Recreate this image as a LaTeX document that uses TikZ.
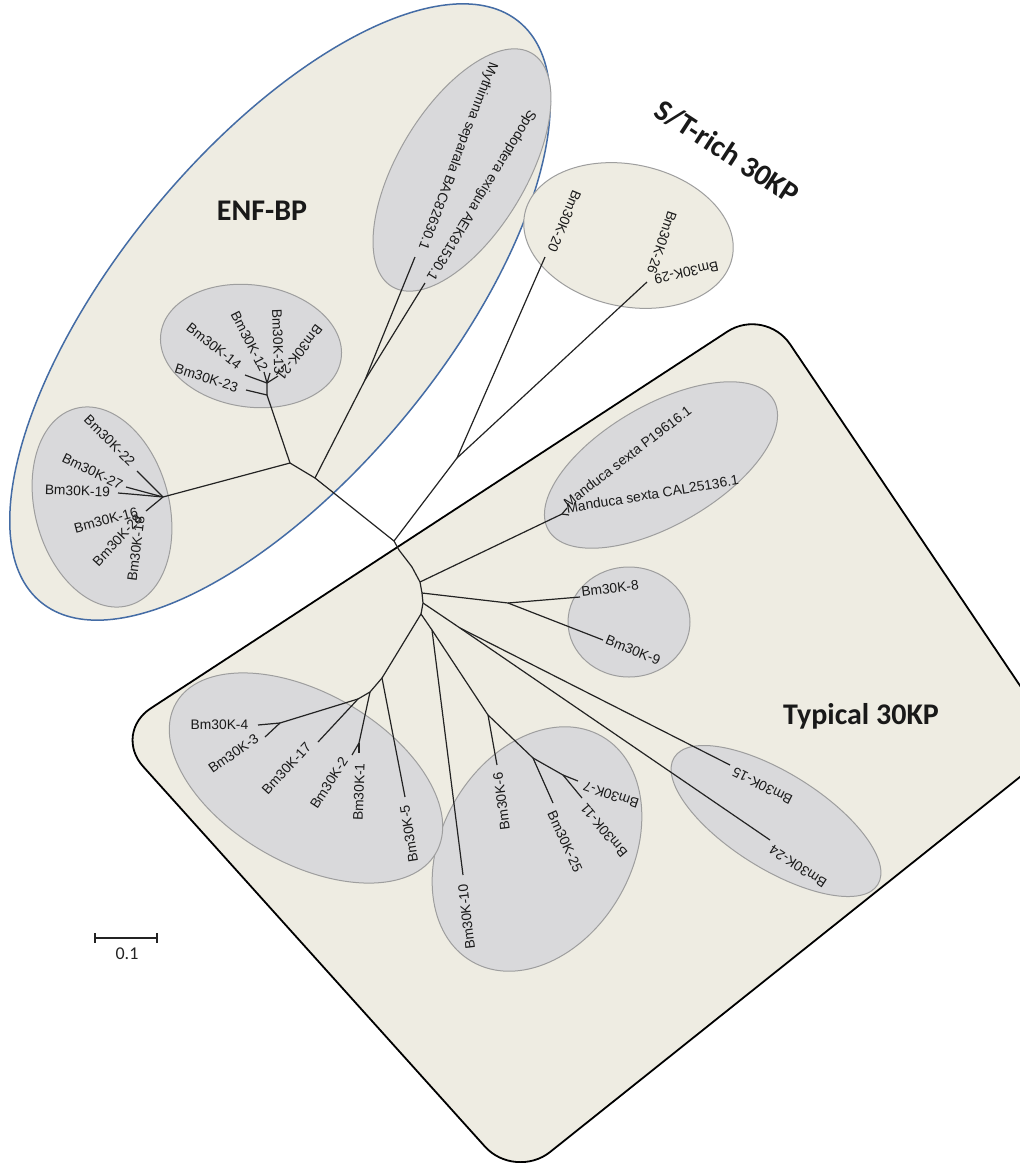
\documentclass[tikz,border=0pt]{standalone}
\usepackage{fontspec}
\setmainfont{Liberation Sans}
\newfontfamily\titlefont{Carlito}
\definecolor{beige}{RGB}{238,236,226}
\definecolor{grayfill}{RGB}{217,217,219}
\definecolor{grayedge}{RGB}{158,158,158}
\definecolor{blueedge}{RGB}{68,108,165}
\definecolor{treec}{RGB}{35,35,35}
\definecolor{labc}{RGB}{25,25,25}
\begin{document}
\begin{tikzpicture}[x=1pt,y=-1pt,
  tree/.style={draw=treec, line width=1.2pt},
  lab/.style={font={\fontsize{13.8}{16}\selectfont}, text=labc, inner sep=0pt},
  grp/.style={fill=grayfill, draw=grayedge, line width=1pt},
  title/.style={font={\titlefont\bfseries\fontsize{30}{36}\selectfont}, text=labc, inner sep=0pt},
  boxst/.style={draw=black, line width=1.8pt, fill=beige, rounded corners=45pt}]
\useasboundingbox (0,0) rectangle (1020,1163);
\clip (0,0) rectangle (1020,1163);
\fill[white] (0,0) rectangle (1020,1163);

% ENF-BP group
\draw[blueedge, line width=1.5pt, fill=beige, rotate around={50.5:(280,312)}] (280,312) ellipse [x radius=376, y radius=163];
% Typical 30KP box
\coordinate (bxL) at (113,733);
\coordinate (bxT) at (765,307);
\coordinate (bxR) at (1060,745);
\coordinate (bxB) at (515,1180);
\coordinate (bxM) at (445,516);
\draw[boxst] (bxM) -- (bxT) -- (bxR) -- (bxB) -- (bxL) -- cycle;
% S/T-rich group
\draw[fill=beige, draw=grayedge, line width=1pt, rotate around={-12:(628.5,235.5)}] (628.5,235.5) ellipse [x radius=106, y radius=71];

% gray clusters
\draw[grp, rotate around={15:(102,507)}] (102,507) ellipse [x radius=67, y radius=102];
\draw[grp, rotate around={-8:(251,346)}] (251,346) ellipse [x radius=91, y radius=61];
\draw[grp, rotate around={59:(462,170)}] (462,170) ellipse [x radius=136, y radius=64];
\draw[grp, rotate around={30:(661,465)}] (661,465) ellipse [x radius=130, y radius=60];
\draw[grp] (629,622) ellipse [x radius=61, y radius=55];
\draw[grp, rotate around={-32:(776,821)}] (776,821) ellipse [x radius=120, y radius=48];
\draw[grp, rotate around={60:(537,849)}] (537,849) ellipse [x radius=130, y radius=95];
\draw[grp, rotate around={-30:(306,778)}] (306,778) ellipse [x radius=150, y radius=85];

% tree coordinates
\coordinate (root) at (394,541);
\coordinate (r1) at (399,550);
\coordinate (r2) at (412,567);
\coordinate (nB) at (420,582);
\coordinate (nC) at (422,593);
\coordinate (nD) at (423,603);
\coordinate (nE) at (421,614);
\coordinate (nF) at (432,630);
\coordinate (nE1) at (315,478);
\coordinate (nE2) at (290,463);
\coordinate (nMS) at (365,380);
\coordinate (tMy) at (415,257);
\coordinate (tSp) at (425,283);
\coordinate (nC1) at (163,497);
\coordinate (t22) at (137,471);
\coordinate (t27) at (126,487);
\coordinate (n19) at (130,494);
\coordinate (t19) at (118,493);
\coordinate (t16) at (146,511);
\coordinate (nC2) at (267,395);
\coordinate (nC2b) at (267,383);
\coordinate (t23) at (246,390);
\coordinate (t14) at (245,375);
\coordinate (t12) at (264,372);
\coordinate (t13) at (270,373);
\coordinate (t21) at (278,376);
\coordinate (nST) at (457,458);
\coordinate (t20) at (545,257);
\coordinate (t26) at (647,282);
\coordinate (nM) at (562,514);
\coordinate (tP) at (567,508);
\coordinate (tCa) at (569,515);
\coordinate (n89) at (508,603);
\coordinate (t8) at (580,597);
\coordinate (t9) at (603,640);
\coordinate (n1524) at (460,628);
\coordinate (t15) at (730,765);
\coordinate (t24) at (770,840);
\coordinate (t10) at (463,875);
\coordinate (n6) at (488,715);
\coordinate (t6) at (497,765);
\coordinate (n25) at (533,758);
\coordinate (t25) at (553,803);
\coordinate (n711) at (563,775);
\coordinate (t7) at (578,781);
\coordinate (t11) at (582,798);
\coordinate (n5) at (382,678);
\coordinate (t5) at (405,797);
\coordinate (na) at (370,692);
\coordinate (n17) at (358,699);
\coordinate (t17) at (318,742);
\coordinate (n34) at (280,723);
\coordinate (t4) at (258,725);
\coordinate (t3) at (265,737);
\coordinate (n12) at (359,743);
\coordinate (t2) at (352,755);
\coordinate (t1) at (359,753);

% tree branches
\draw[tree] (root) -- (r1) -- (r2) -- (nB) -- (nC) -- (nD) -- (nE);
\draw[tree] (root) -- (nE1) -- (nE2);
\draw[tree] (nE1) -- (nMS) -- (tMy);
\draw[tree] (nMS) -- (tSp);
\draw[tree] (nE2) -- (nC1) -- (t22);
\draw[tree] (nC1) -- (t27);
\draw[tree] (nC1) -- (n19) -- (t19);
\draw[tree] (nC1) -- (t16);
\draw[tree] (nE2) -- (nC2) -- (t23);
\draw[tree] (nC2) -- (nC2b) -- (t14);
\draw[tree] (nC2b) -- (t12);
\draw[tree] (nC2b) -- (t13);
\draw[tree] (nC2b) -- (t21);
\draw[tree] (root) -- (nST) -- (t20);
\draw[tree] (nST) -- (t26);
\draw[tree] (nB) -- (nM) -- (tP);
\draw[tree] (nM) -- (tCa);
\draw[tree] (nC) -- (n89) -- (t8);
\draw[tree] (n89) -- (t9);
\draw[tree] (nD) -- (n1524) -- (t15);
\draw[tree] (n1524) -- (t24);
\draw[tree] (nE) -- (nF) -- (t10);
\draw[tree] (nF) -- (n6) -- (t6);
\draw[tree] (n6) -- (n25) -- (t25);
\draw[tree] (n25) -- (n711) -- (t7);
\draw[tree] (n711) -- (t11);
\draw[tree] (nE) -- (n5) -- (t5);
\draw[tree] (n5) -- (na) -- (n17) -- (t17);
\draw[tree] (n17) -- (n34) -- (t4);
\draw[tree] (n34) -- (t3);
\draw[tree] (na) -- (n12) -- (t2);
\draw[tree] (n12) -- (t1);

% leaf labels
\node[lab, rotate=-45] (l22) at (109.5,440.5) {Bm30K-22};
\node[lab, rotate=-26] (l27) at (92.5,471.5) {Bm30K-27};
\node[lab, rotate=-2] (l19) at (77.5,491) {Bm30K-19};
\node[lab, rotate=15] (l16) at (106,520) {Bm30K-16};
\node[lab, rotate=47] (l28) at (117.5,540) {Bm30K-28};
\node[lab, rotate=83] (l18) at (136,549) {Bm30K-18};
\node[lab, rotate=-38] (l14) at (214,346) {Bm30K-14};
\node[lab, rotate=-17.5] (l23) at (206.5,378) {Bm30K-23};
\node[lab, rotate=-63] (l12) at (249.5,341.5) {Bm30K-12};
\node[lab, rotate=-88] (l13) at (278,341.5) {Bm30K-13};
\node[lab, rotate=-128] (l21) at (299.5,352.5) {Bm30K-21};
\node[lab, rotate=-111] (lMy) at (457.5,156) {Mythimna separala BAC82630.1};
\node[lab, rotate=-121.5] (lSp) at (481,195) {Spodoptera exigua AEK81530.1};
\node[lab, rotate=-113] (l20) at (564.5,221) {Bm30K-20};
\node[lab, rotate=-109] (l26) at (662,242.5) {Bm30K-26};
\node[lab, rotate=-168] (l29) at (686.5,272.5) {Bm30K-29};
\node[lab, rotate=37.5] (lP) at (627.5,456.5) {Manduca sexta P19616.1};
\node[lab, rotate=9.4] (lCa) at (652.5,494) {Manduca sexta CAL25136.1};
\node[lab, rotate=7] (l8) at (610,588.5) {Bm30K-8};
\node[lab, rotate=-22] (l9) at (633,650) {Bm30K-9};
\node[lab, rotate=153] (l15) at (762.5,786) {Bm30K-15};
\node[lab, rotate=146.6] (l24) at (798,866.5) {Bm30K-24};
\node[lab, rotate=97.5] (l6) at (501.5,801.5) {Bm30K-6};
\node[lab, rotate=-65.5] (l25) at (565,841.5) {Bm30K-25};
\node[lab, rotate=130] (l11) at (604,830.5) {Bm30K-11};
\node[lab, rotate=161.6] (l7) at (611,795) {Bm30K-7};
\node[lab, rotate=96.7] (l10) at (466.5,917) {Bm30K-10};
\node[lab] (l4) at (219.5,725) {Bm30K-4};
\node[lab, rotate=35] (l3) at (233.5,753.5) {Bm30K-3};
\node[lab, rotate=47.5] (l17) at (286.5,768.5) {Bm30K-17};
\node[lab, rotate=57] (l2) at (329,783) {Bm30K-2};
\node[lab, rotate=88] (l1) at (359,792) {Bm30K-1};
\node[lab, rotate=99] (l5) at (409,834) {Bm30K-5};

% group titles
\node[title] (tENF) at (262,211) {ENF-BP};
\node[title, rotate=-33] (tST) at (727,152) {S/T-rich 30KP};
\node[title] (tTyp) at (861,716) {Typical 30KP};

% scale bar
\coordinate (sbL) at (95,938);
\coordinate (sbR) at (157,938);
\draw[draw=treec, line width=1.2pt] (sbL) -- (sbR);
\draw[draw=treec, line width=1.2pt] ([yshift=5pt]sbL) -- ([yshift=-5pt]sbL);
\draw[draw=treec, line width=1.2pt] ([yshift=5pt]sbR) -- ([yshift=-5pt]sbR);
\node[font={\titlefont\fontsize{18}{20}\selectfont}, text=treec, inner sep=0pt] (sbt) at (127,954) {0.1};
\end{tikzpicture}
\end{document}
